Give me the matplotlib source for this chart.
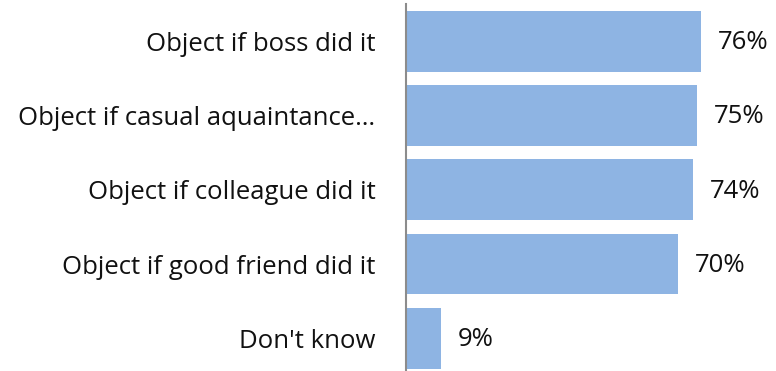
import matplotlib
matplotlib.use("Agg")
import matplotlib.pyplot as plt

categories = ["Object if boss did it", "Object if casual aquaintance\u2026",
              "Object if colleague did it", "Object if good friend did it",
              "Don't know"]
values = [76, 75, 74, 70, 9]
value_labels = ["76%", "75%", "74%", "70%", "9%"]

plt.rcParams['font.family'] = ['Open Sans', 'DejaVu Sans']

W, H = 776, 371
fig = plt.figure(figsize=(W / 100, H / 100), dpi=100)
ax = fig.add_axes([406 / W, 0, 1 - 406 / W, 367 / H])

pos = list(range(len(categories)))
ax.barh(pos, values, height=0.82, color='#8EB4E3', edgecolor='none')
for p, v, lab in zip(pos, values, value_labels):
    ax.text(v + 4.4, p + 0.02, lab, va='center', ha='left', fontsize=18.5, color='#111111')

ax.set_xlim(0, (W - 406) / 3.88)
ax.set_ylim(4.44, -0.5)
ax.set_yticks(pos)
ax.set_yticklabels(categories, fontsize=18.5, color='#111111')
ax.tick_params(axis='y', length=0, pad=22)
ax.set_xticks([])
for s in ['top', 'right', 'bottom']:
    ax.spines[s].set_visible(False)
ax.spines['left'].set_color('#8c8c8c')
ax.spines['left'].set_linewidth(1.5)

fig.savefig("out.png", dpi=100)
